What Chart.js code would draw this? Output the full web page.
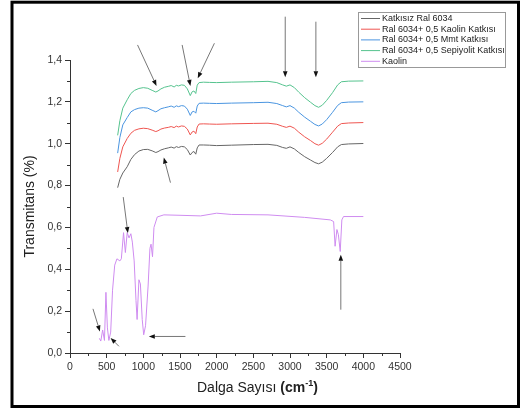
<!DOCTYPE html>
<html>
<head>
<meta charset="utf-8">
<script src="https://cdn.jsdelivr.net/npm/chart.js@4.4.1/dist/chart.umd.min.js"></script>
<style>
  html, body { margin: 0; padding: 0; background: #fff; }
  #wrap { width: 526px; height: 409px; position: relative; }
</style>
</head>
<body>
<div id="wrap"><canvas id="ftir"></canvas></div>
<script>
// Dalga sayısı (cm-1), Ral 6034 serileri için ortak
const wavenumbers = [650, 680, 720, 780, 830, 880, 940, 1000, 1060, 1120, 1170, 1200, 1240, 1290, 1340, 1380, 1420, 1450, 1480, 1520, 1560, 1600, 1640, 1665, 1690, 1715, 1735, 1760, 1820, 1900, 2000, 2200, 2500, 2700, 2820, 2900, 2950, 3000, 3060, 3120, 3200, 3280, 3340, 3390, 3440, 3500, 3580, 3650, 3700, 3800, 4000];

const katkisiz = [0.79, 0.83, 0.86, 0.89, 0.925, 0.948, 0.965, 0.972, 0.973, 0.966, 0.958, 0.962, 0.970, 0.976, 0.980, 0.984, 0.979, 0.986, 0.982, 0.987, 0.985, 0.972, 0.946, 0.958, 0.963, 0.950, 0.980, 0.994, 0.994, 0.993, 0.991, 0.993, 0.996, 0.997, 0.992, 0.982, 0.978, 0.985, 0.975, 0.958, 0.938, 0.922, 0.910, 0.904, 0.912, 0.930, 0.958, 0.985, 0.996, 0.999, 1.001];
const kaolinKatkili = [0.865, 0.93, 0.985, 1.025, 1.05, 1.064, 1.071, 1.074, 1.072, 1.065, 1.058, 1.062, 1.070, 1.075, 1.078, 1.082, 1.077, 1.084, 1.080, 1.085, 1.083, 1.070, 1.042, 1.056, 1.060, 1.048, 1.080, 1.094, 1.095, 1.094, 1.093, 1.095, 1.097, 1.098, 1.093, 1.083, 1.078, 1.084, 1.074, 1.055, 1.033, 1.015, 1.000, 0.993, 1.002, 1.022, 1.055, 1.084, 1.096, 1.099, 1.101];
const mmtKatkili = [0.955, 1.03, 1.09, 1.125, 1.152, 1.163, 1.170, 1.172, 1.170, 1.160, 1.152, 1.158, 1.167, 1.172, 1.176, 1.180, 1.174, 1.181, 1.177, 1.182, 1.180, 1.165, 1.135, 1.152, 1.155, 1.146, 1.180, 1.193, 1.194, 1.193, 1.192, 1.194, 1.196, 1.198, 1.192, 1.182, 1.176, 1.182, 1.170, 1.150, 1.127, 1.107, 1.092, 1.085, 1.094, 1.115, 1.150, 1.183, 1.196, 1.199, 1.200];
const sepiyolitKatkili = [1.04, 1.11, 1.17, 1.21, 1.24, 1.255, 1.264, 1.268, 1.265, 1.255, 1.247, 1.252, 1.262, 1.270, 1.274, 1.278, 1.271, 1.279, 1.276, 1.281, 1.279, 1.262, 1.230, 1.248, 1.252, 1.240, 1.280, 1.292, 1.294, 1.293, 1.292, 1.294, 1.296, 1.298, 1.292, 1.281, 1.275, 1.281, 1.268, 1.246, 1.220, 1.198, 1.182, 1.174, 1.184, 1.207, 1.244, 1.281, 1.296, 1.299, 1.300];

// Kaolin spektrumu (kendi dalga sayıları)
const kaolinWn = [400, 420, 445, 470, 490, 510, 530, 555, 580, 610, 640, 680, 700, 730, 755, 780, 805, 830, 850, 875, 900, 915, 940, 960, 985, 1005, 1030, 1065, 1090, 1105, 1125, 1145, 1190, 1280, 1500, 1780, 2000, 2200, 2700, 3200, 3550, 3595, 3615, 3640, 3660, 3685, 3707, 3730, 4000];
const kaolin = [0.07, 0.057, 0.11, 0.06, 0.29, 0.12, 0.06, 0.10, 0.30, 0.42, 0.45, 0.44, 0.45, 0.575, 0.48, 0.575, 0.55, 0.57, 0.53, 0.44, 0.25, 0.16, 0.35, 0.33, 0.16, 0.087, 0.13, 0.32, 0.50, 0.52, 0.46, 0.60, 0.65, 0.66, 0.658, 0.655, 0.668, 0.662, 0.66, 0.648, 0.636, 0.628, 0.51, 0.59, 0.565, 0.485, 0.636, 0.652, 0.652];

const seriesLabels = ['Katkısız Ral 6034', 'Ral 6034+ 0,5 Kaolin Katkısı', 'Ral 6034+ 0,5 Mmt Katkısı', 'Ral 6034+ 0,5 Sepiyolit Katkısı', 'Kaolin'];
const seriesColors = ['#666666', '#ef5550', '#4a95e0', '#55c38e', '#cf8cf0'];

// Oklar: [x1, y1, x2 (uç), y2 (uç)] veri koordinatlarında
const arrows = [
  [921, 1.472, 1180, 1.276],
  [1529, 1.472, 1642, 1.276],
  [1969, 1.48, 1742, 1.313],
  [2935, 1.607, 2935, 1.317],
  [3353, 1.583, 3353, 1.317],
  [1370, 0.814, 1279, 0.934],
  [726, 0.745, 789, 0.573],
  [313, 0.211, 408, 0.103],
  [667, 0.032, 554, 0.072],
  [1574, 0.079, 1075, 0.079],
  [3693, 0.207, 3693, 0.469]
];

const xMinor = [250, 750, 1250, 1750, 2250, 2750, 3250, 3750, 4250];
const yMinor = [0.1, 0.3, 0.5, 0.7, 0.9, 1.1, 1.3];

const axisColor = '#333';
const font = 'Arial, "Liberation Sans", sans-serif';

function toPoints(xs, ys) {
  return xs.map((x, i) => ({ x, y: ys[i] }));
}

function drawArrow(ctx, x1, y1, x2, y2) {
  const ang = Math.atan2(y2 - y1, x2 - x1);
  const head = 6, half = 2.3;
  const bx = x2 - head * Math.cos(ang);
  const by = y2 - head * Math.sin(ang);
  ctx.strokeStyle = '#777';
  ctx.lineWidth = 1;
  ctx.beginPath();
  ctx.moveTo(x1, y1);
  ctx.lineTo(bx, by);
  ctx.stroke();
  ctx.fillStyle = '#111';
  ctx.beginPath();
  ctx.moveTo(x2, y2);
  ctx.lineTo(bx + half * Math.sin(ang), by - half * Math.cos(ang));
  ctx.lineTo(bx - half * Math.sin(ang), by + half * Math.cos(ang));
  ctx.closePath();
  ctx.fill();
}

// Çerçeve, minör çentikler, oklar, lejant ve x başlığı
const decorPlugin = {
  id: 'decor',
  afterDraw(chart) {
    const { ctx, scales: { x, y } } = chart;
    ctx.save();

    // minör çentikler
    ctx.strokeStyle = axisColor;
    ctx.lineWidth = 1;
    ctx.beginPath();
    yMinor.forEach((v) => {
      const py = Math.round(y.getPixelForValue(v)) + 0.5;
      ctx.moveTo(x.left - 3, py);
      ctx.lineTo(x.left, py);
    });
    xMinor.forEach((v) => {
      const px = Math.round(x.getPixelForValue(v)) + 0.5;
      ctx.moveTo(px, y.bottom);
      ctx.lineTo(px, y.bottom + 3);
    });
    ctx.stroke();

    // oklar
    arrows.forEach(([a, b, c, d]) => {
      drawArrow(ctx, x.getPixelForValue(a), y.getPixelForValue(b), x.getPixelForValue(c), y.getPixelForValue(d));
    });

    // lejant
    const lx = 358.5, ly = 12.5, lw = 147, lh = 55;
    ctx.strokeStyle = '#999';
    ctx.lineWidth = 1;
    ctx.strokeRect(lx, ly, lw, lh);
    ctx.font = '9px ' + font;
    ctx.textBaseline = 'middle';
    ctx.textAlign = 'left';
    seriesLabels.forEach((label, i) => {
      const yy = 18.5 + i * 10.7;
      ctx.strokeStyle = seriesColors[i];
      ctx.beginPath();
      ctx.moveTo(361, yy);
      ctx.lineTo(380, yy);
      ctx.stroke();
      ctx.fillStyle = '#222';
      ctx.fillText(label, 382, yy);
    });

    // x ekseni başlığı: "Dalga Sayısı (cm⁻¹)"
    ctx.fillStyle = '#222';
    ctx.textBaseline = 'alphabetic';
    const base = 392;
    let cx = 197;
    const parts = [
      ['Dalga Sayısı ', '14px ' + font, 0],
      ['(cm', 'bold 14px ' + font, 0],
      ['-1', 'bold 9px ' + font, -6],
      [')', 'bold 14px ' + font, 0]
    ];
    parts.forEach(([t, f, dy]) => {
      ctx.font = f;
      ctx.fillText(t, cx, base + dy);
      cx += ctx.measureText(t).width;
    });

    // dış çerçeve
    ctx.strokeStyle = '#000';
    ctx.lineWidth = 3;
    ctx.strokeRect(12, 2.2, 506.5, 404.3);
    ctx.restore();
  }
};

const datasets = [
  { data: toPoints(wavenumbers, katkisiz) },
  { data: toPoints(wavenumbers, kaolinKatkili) },
  { data: toPoints(wavenumbers, mmtKatkili) },
  { data: toPoints(wavenumbers, sepiyolitKatkili) },
  { data: toPoints(kaolinWn, kaolin) }
].map((d, i) => ({
  label: seriesLabels[i],
  data: d.data,
  borderColor: seriesColors[i],
  borderWidth: 1,
  pointRadius: 0,
  tension: 0,
  fill: false
}));

new Chart(document.getElementById('ftir'), {
  type: 'line',
  data: { datasets },
  options: {
    responsive: true,
    maintainAspectRatio: false,
    animation: false,
    layout: { padding: { left: 18, right: 126, top: 60, bottom: 0 } },
    plugins: { legend: { display: false }, tooltip: { enabled: false } },
    scales: {
      x: {
        type: 'linear',
        min: 0,
        max: 4500,
        afterFit: (s) => { s.height = 56; },
        ticks: {
          stepSize: 500,
          color: axisColor,
          font: { size: 10.5, family: font },
          padding: 3,
          maxRotation: 0,
          callback: (v) => String(v)
        },
        grid: { drawOnChartArea: false, drawTicks: true, tickLength: 5, color: axisColor },
        border: { display: true, color: axisColor }
      },
      y: {
        min: 0,
        max: 1.4,
        afterFit: (s) => { s.width = 52; },
        ticks: {
          stepSize: 0.2,
          color: axisColor,
          font: { size: 10.5, family: font },
          padding: 3,
          callback: (v) => v.toFixed(1).replace('.', ',')
        },
        grid: { drawOnChartArea: false, drawTicks: true, tickLength: 5, color: axisColor },
        border: { display: true, color: axisColor },
        title: { display: true, text: 'Transmitans (%)', color: '#222', font: { size: 14, family: font }, padding: { top: 4, bottom: 4 } }
      }
    }
  },
  plugins: [decorPlugin]
});
</script>
</body>
</html>
